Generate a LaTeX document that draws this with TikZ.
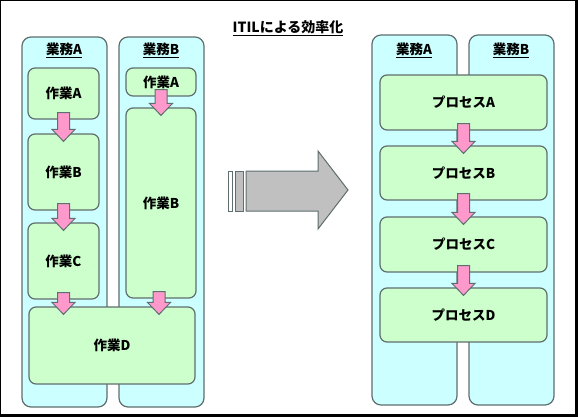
\documentclass[tikz,border=0pt]{standalone}
\usepackage{fontspec}
\setmainfont{Noto Sans CJK JP}
\usetikzlibrary{calc}
\definecolor{laneC}{RGB}{204,255,255}
\definecolor{taskG}{RGB}{204,255,204}
\definecolor{flowP}{RGB}{255,153,204}
\definecolor{edgeG}{RGB}{95,110,110}
\definecolor{bigG}{RGB}{192,192,192}

% thick pink arrow from the bottom of one box into the top of the next
\newcommand{\flowarrow}[3][0]{%
  \path ($(#2.south)+(#1,-7)$) coordinate (fa-s) ($(#3.north)+(0,8)$) coordinate (fa-t);
  \draw[flowarr] let \p1=(fa-s), \p2=(fa-t) in
    (\x1-6pt,\y1) -- (\x1+6pt,\y1) -- (\x1+6pt,\y2+12pt) -- (\x1+11.5pt,\y2+12pt)
    -- (\x1,\y2) -- (\x1-11.5pt,\y2+12pt) -- (\x1-6pt,\y2+12pt) -- cycle;}

\begin{document}
\begin{tikzpicture}[x=1pt,y=-1pt,font=\fontsize{13.5}{15}\selectfont\bfseries]
  \tikzset{lane/.style={draw=edgeG,line width=1.2pt,fill=laneC,rounded corners=9pt,inner sep=0pt,minimum width=85pt,minimum height=370pt},
    task/.style={draw=edgeG,line width=1.2pt,fill=taskG,rounded corners=7pt,inner sep=0pt,align=center},
    head/.style={inner sep=0pt},
    flowarr/.style={draw=edgeG,line width=1pt,fill=flowP}}
  \useasboundingbox (0,0) rectangle (578,417);
  % frame with shadow
  \fill[black] (0,0) rectangle (578,417);
  \fill[white] (1,1) rectangle (575,414);
  \node[head,font=\fontsize{14}{16}\selectfont\bfseries] (title) at (288,28) {\underline{ITILによる効率化}};
  % before: two separate lanes
  \node[lane] (laneLA) at (64.5,222) {};
  \node[lane] (laneLB) at (161.5,222) {};
  \node[head] (hLA) at (64,50) {\underline{業務A}};
  \node[head] (hLB) at (161,50) {\underline{業務B}};
  \node[task,minimum width=71pt,minimum height=51pt] (wAa) at (63.5,93.5) {作業A};
  \node[task,minimum width=71pt,minimum height=76pt] (wAb) at (63.5,172) {作業B};
  \node[task,minimum width=71pt,minimum height=76pt] (wAc) at (63.5,261) {作業C};
  \node[task,minimum width=70pt,minimum height=28pt] (wBa) at (161,82) {作業A};
  \node[task,minimum width=70pt,minimum height=190pt] (wBb) at (161,203) {作業B};
  \node[task,minimum width=166pt,minimum height=77pt] (wD) at (112,345.5) {作業D};
  \flowarrow{wAa}{wAb}
  \flowarrow{wAb}{wAc}
  \flowarrow{wAc}{wD}
  \flowarrow{wBa}{wBb}
  \flowarrow[-2]{wBb}{wD}
  % big grey arrow
  \draw[edgeG,line width=1pt,fill=white] (228,171) rectangle (232,211);
  \draw[edgeG,line width=1pt,fill=bigG] (235,171) rectangle (243,211);
  \draw[edgeG,line width=1pt,fill=bigG] (246,171) -- (318,171) -- (318,151) -- (348,190) -- (318,229) -- (318,211) -- (246,211) -- cycle;
  % after: one process across both lanes
  \node[lane] (laneRA) at (414.5,220) {};
  \node[lane] (laneRB) at (511.5,220) {};
  \node[head] (hRA) at (414,50) {\underline{業務A}};
  \node[head] (hRB) at (511,50) {\underline{業務B}};
  \node[task,minimum width=167pt,minimum height=55pt] (pA) at (463.5,102.5) {プロセスA};
  \node[task,minimum width=167pt,minimum height=54pt] (pB) at (463.5,173) {プロセスB};
  \node[task,minimum width=167pt,minimum height=55pt] (pC) at (463.5,244.5) {プロセスC};
  \node[task,minimum width=167pt,minimum height=54pt] (pD) at (463.5,315) {プロセスD};
  \flowarrow{pA}{pB}
  \flowarrow{pB}{pC}
  \flowarrow{pC}{pD}
\end{tikzpicture}
\end{document}
